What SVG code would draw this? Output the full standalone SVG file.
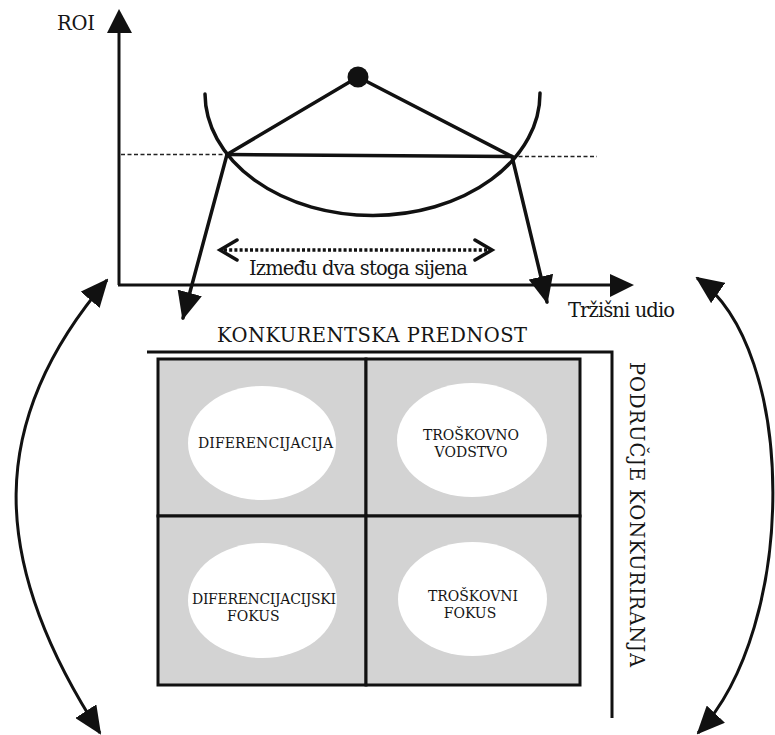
<svg xmlns="http://www.w3.org/2000/svg" width="775" height="735" viewBox="0 0 775 735">
<style>
  .ln{stroke:#111;stroke-width:3.5;fill:none;stroke-linecap:round}
  .ax{stroke:#111;stroke-width:3;fill:none}
  .dash{stroke:#222;stroke-width:1.5;fill:none;stroke-dasharray:4 2.5}
  .dots{stroke:#111;stroke-width:3.5;fill:none;stroke-dasharray:3 2.2}
  text{font-family:'DejaVu Serif','Liberation Serif',serif;fill:#151515}
  .lbl{font-size:19.5px}
  .in{font-size:14px}
  .cell{fill:#d3d3d3;stroke:#111;stroke-width:3}
  .ell{fill:#fff;stroke:none}
</style>
<defs>
  <marker id="ah" markerUnits="userSpaceOnUse" viewBox="0 0 28 25" markerWidth="28" markerHeight="25" refX="26" refY="12.5" orient="auto-start-reverse">
    <path d="M0,0 L28,12.5 L0,25 z" fill="#111"/>
  </marker>
</defs>

<g id="axes">
  <line class="ax" x1="119" y1="285" x2="119" y2="32"/>
  <polygon points="119,9 107,33 132,33" fill="#111"/>
  <line class="ax" x1="118" y1="285" x2="612" y2="285"/>
  <polygon points="634,285 610,274 610,297" fill="#111"/>
  <text class="lbl" x="57" y="30" textLength="38">ROI</text>
  <text class="lbl" x="568" y="317" textLength="107">Tržišni udio</text>
</g>

<g id="haystack">
  <line class="dash" x1="121" y1="154.5" x2="227" y2="154.5"/>
  <line class="dash" x1="512" y1="156.5" x2="597" y2="156.5"/>
  <path class="ln" d="M205 94 A167.5 122 0 0 0 540 93" stroke-width="3"/>
  <line class="ln" x1="227" y1="154.5" x2="512" y2="156.5"/>
  <line class="ln" x1="227" y1="154.5" x2="358" y2="77"/>
  <line class="ln" x1="512" y1="156.5" x2="358" y2="77"/>
  <circle cx="358" cy="77" r="10.5" fill="#111"/>
</g>

<g id="connectors">
  <line class="ln" x1="227" y1="154.5" x2="183" y2="318" marker-end="url(#ah)"/>
  <line class="ln" x1="512" y1="156.5" x2="547" y2="302" marker-end="url(#ah)"/>
  <path class="ax" d="M107 280 C-13 420 -13 559 100 733" marker-start="url(#ah)" marker-end="url(#ah)"/>
  <path class="ax" d="M697 278 C798 349 798 627 698 733" marker-start="url(#ah)" marker-end="url(#ah)"/>
</g>

<g id="between">
  <line class="dots" x1="224" y1="250" x2="489" y2="250"/>
  <polyline class="ln" points="237,240 220,250 237,260" stroke-width="3" stroke-linecap="butt"/>
  <polyline class="ln" points="475,240 492,250 475,260" stroke-width="3" stroke-linecap="butt"/>
  <text class="lbl" x="249" y="275" textLength="219">Između dva stoga sijena</text>
</g>

<g id="frame">
  <polyline class="ax" points="147,352 612,352 612,718"/>
  <text class="lbl" x="217" y="342" textLength="310">KONKURENTSKA PREDNOST</text>
  <text class="lbl" transform="translate(630,362) rotate(90)" x="0" y="0" textLength="305">PODRUČJE KONKURIRANJA</text>
</g>

<g id="grid">
  <rect class="cell" x="158" y="359" width="208" height="157"/>
  <rect class="cell" x="366" y="359" width="214" height="157"/>
  <rect class="cell" x="158" y="516" width="208" height="169"/>
  <rect class="cell" x="366" y="516" width="214" height="169"/>
</g>

<g id="diferencijacija">
  <ellipse class="ell" cx="262" cy="443" rx="74" ry="57"/>
  <text class="in" x="198" y="448" textLength="135">DIFERENCIJACIJA</text>
</g>
<g id="troskovno-vodstvo">
  <ellipse class="ell" cx="472" cy="440" rx="75" ry="57"/>
  <text class="in" x="471" y="440" text-anchor="middle">TROŠKOVNO</text>
  <text class="in" x="471" y="457" text-anchor="middle">VODSTVO</text>
</g>
<g id="diferencijacijski-fokus">
  <ellipse class="ell" cx="262.5" cy="600.5" rx="74.5" ry="57.5"/>
  <text class="in" x="192" y="604" textLength="144">DIFERENCIJACIJSKI</text>
  <text class="in" x="227" y="621">FOKUS</text>
</g>
<g id="troskovni-fokus">
  <ellipse class="ell" cx="472.5" cy="599" rx="74.5" ry="57"/>
  <text class="in" x="473" y="601" text-anchor="middle">TROŠKOVNI</text>
  <text class="in" x="470" y="618" text-anchor="middle">FOKUS</text>
</g>
</svg>
